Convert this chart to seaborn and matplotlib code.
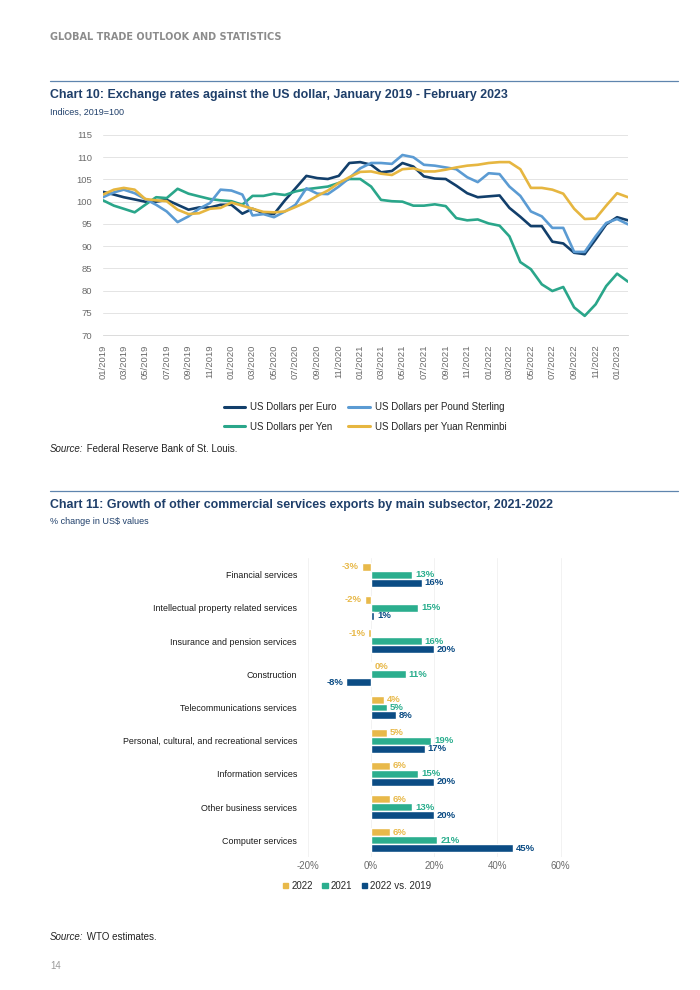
import numpy as np
import pandas as pd
import matplotlib.pyplot as plt
import seaborn as sns
from matplotlib.lines import Line2D

# ==================== DATA ====================

MONTHS = pd.date_range('2019-01-01', periods=50, freq='MS')

EURO = [102.2, 101.6, 101.0, 100.5, 100.0, 100.0, 100.4, 99.3, 98.2, 98.7,
        98.7, 99.3, 99.3, 97.3, 98.4, 97.4, 97.2, 100.3, 103.0, 105.8,
        105.3, 105.1, 105.8, 108.7, 108.9, 108.3, 106.6, 106.9, 108.7, 107.9,
        105.7, 105.2, 105.1, 103.6, 101.9, 101.0, 101.2, 101.4, 98.6, 96.6,
        94.5, 94.5, 91.0, 90.6, 88.5, 88.2, 91.5, 94.9, 96.5, 95.8]

POUND = [101.0, 102.1, 102.7, 101.9, 100.6, 99.3, 97.8, 95.4, 96.7, 98.4,
         99.7, 102.7, 102.5, 101.6, 96.9, 97.2, 96.5, 97.8, 99.3, 103.0,
         101.8, 101.7, 103.4, 105.3, 107.5, 108.7, 108.7, 108.5, 110.5, 110.0,
         108.3, 108.1, 107.7, 107.3, 105.5, 104.4, 106.4, 106.2, 103.4, 101.3,
         97.8, 96.7, 94.1, 94.1, 88.7, 88.7, 92.2, 95.2, 96.1, 94.9]

YEN = [100.3, 99.1, 98.4, 97.6, 99.3, 101.0, 100.8, 102.9, 101.8, 101.2,
       100.6, 100.3, 100.1, 99.3, 101.3, 101.3, 101.8, 101.5, 102.3, 102.8,
       103.1, 103.4, 104.2, 105.1, 105.1, 103.4, 100.4, 100.1, 100.0, 99.1,
       99.1, 99.4, 99.0, 96.3, 95.8, 96.0, 95.1, 94.6, 92.2, 86.4,
       84.8, 81.4, 79.9, 80.8, 76.2, 74.3, 76.9, 81.0, 83.8, 82.0]

YUAN = [101.6, 102.7, 103.1, 102.7, 100.6, 100.3, 100.1, 98.2, 97.2, 97.4,
        98.4, 98.6, 99.8, 99.1, 98.4, 97.7, 97.6, 97.8, 98.8, 99.9,
        101.3, 102.5, 104.2, 105.5, 106.7, 106.8, 106.3, 106.0, 107.3, 107.5,
        106.8, 106.8, 107.2, 107.7, 108.1, 108.3, 108.7, 108.9, 108.9, 107.3,
        103.1, 103.1, 102.7, 101.8, 98.4, 96.1, 96.2, 99.1, 101.9, 101.0]

SERIES_NAMES = ['US Dollars per Euro', 'US Dollars per Yen',
                'US Dollars per Pound Sterling', 'US Dollars per Yuan Renminbi']
LINE_COLORS = ['#123F6B', '#2AA68A', '#5B9BD3', '#E6B640']

SECTORS = [
    'Financial services',
    'Intellectual property related services',
    'Insurance and pension services',
    'Construction',
    'Telecommunications services',
    'Personal, cultural, and recreational services',
    'Information services',
    'Other business services',
    'Computer services'
]
GROWTH_2022 = [-3, -2, -1, 0.3, 4, 5, 6, 6, 6]
GROWTH_2021 = [13, 15, 16, 11, 5, 19, 15, 13, 21]
GROWTH_2022_VS_2019 = [16, 1, 20, -8, 8, 17, 20, 20, 45]

BAR_SERIES = ['2022', '2021', '2022 vs. 2019']
BAR_COLORS = ['#E8B94A', '#2BAE8E', '#0B4C84']

NAVY = '#1F3F6A'
GREY = '#6B6B6B'

# ==================== STYLE ====================

sns.set_theme(style='white')
plt.rcParams['font.family'] = ['Liberation Sans', 'DejaVu Sans']

fig = plt.figure(figsize=(7, 9.9), dpi=100)
W, H = 700, 990


def fx(px):
    return px / W


def fy(py):
    return 1 - py / H


def source_line(py, rest):
    # italic "Source:" followed by plain text
    t = fig.text(fx(50), fy(py), 'Source:', fontsize=7, style='italic',
                 color='#222222', va='baseline')
    ann = plt.annotate(' ' + rest, xy=(1, 0), xycoords=t, fontsize=7,
                       color='#222222', va='bottom', ha='left')
    return ann


# ==================== PAGE TEXT ====================

fig.text(fx(50), fy(37), 'GLOBAL TRADE OUTLOOK AND STATISTICS', fontsize=7,
         fontweight='bold', color='#8C8C8C', va='center',
         family=['DejaVu Sans'])

for y_rule in (81, 491):
    fig.add_artist(Line2D([fx(50), fx(678)], [fy(y_rule), fy(y_rule)],
                          color='#5F85AE', lw=0.9))

fig.text(fx(50), fy(95),
         'Chart 10: Exchange rates against the US dollar, January 2019 - February 2023',
         fontsize=8.9, fontweight='bold', color=NAVY, va='center')
fig.text(fx(50), fy(112), 'Indices, 2019=100', fontsize=6.5, color=NAVY,
         va='center')

fig.text(fx(50), fy(505),
         'Chart 11: Growth of other commercial services exports by main subsector, 2021-2022',
         fontsize=8.9, fontweight='bold', color=NAVY, va='center')
fig.text(fx(50), fy(521), '% change in US$ values', fontsize=6.5, color=NAVY,
         va='center')

fig.text(fx(50), fy(966), '14', fontsize=7, color='#9A9A9A', va='center')

# ==================== CHART 10: LINES ====================

lines_df = pd.DataFrame({
    'month': np.tile(MONTHS, 4),
    'index': EURO + YEN + POUND + YUAN,
    'series': np.repeat(SERIES_NAMES, len(MONTHS))
})

ax1 = fig.add_axes([fx(103), fy(335), fx(628) - fx(103), fy(135) - fy(335)])
sns.lineplot(data=lines_df, x='month', y='index', hue='series',
             hue_order=SERIES_NAMES, palette=LINE_COLORS, linewidth=1.9,
             ax=ax1, legend=False)

ax1.set_xlim(MONTHS[0], MONTHS[-1])
ax1.set_ylim(70, 115)
ax1.set_yticks(range(70, 116, 5))
ax1.set_xticks(MONTHS[::2])
ax1.set_xticklabels([d.strftime('%m/%Y') for d in MONTHS[::2]], rotation=90)
ax1.tick_params(axis='both', labelsize=6.8, colors=GREY, length=0, pad=8)
ax1.tick_params(axis='x', length=3, color='#CFCFCF', width=0.6, pad=4)
ax1.grid(axis='y', color='#E4E4E4', lw=0.7)
ax1.set_xlabel('')
ax1.set_ylabel('')
for side in ['top', 'right', 'left']:
    ax1.spines[side].set_visible(False)
ax1.spines['bottom'].set_color('#D6D6D6')
ax1.spines['bottom'].set_linewidth(0.6)

handles = [Line2D([0], [0], color=c, lw=2.2) for c in LINE_COLORS]
fig.legend(handles, SERIES_NAMES, ncol=2, frameon=False, fontsize=7,
           loc='center', bbox_to_anchor=(fx(365), fy(417)),
           handlelength=2.2, handletextpad=0.5, columnspacing=1.2,
           labelspacing=1.0)

source_line(452, 'Federal Reserve Bank of St. Louis.')

# ==================== CHART 11: BARS ====================

bars_df = pd.DataFrame({
    'sector': SECTORS * 3,
    'growth': GROWTH_2022 + GROWTH_2021 + GROWTH_2022_VS_2019,
    'series': np.repeat(BAR_SERIES, len(SECTORS))
})

ax2 = fig.add_axes([fx(308), fy(857), fx(570) - fx(308), fy(558) - fy(857)])
sns.barplot(data=bars_df, y='sector', x='growth', hue='series',
            hue_order=BAR_SERIES, palette=BAR_COLORS, orient='h',
            width=0.72, ax=ax2, saturation=1)

ax2.set_xlim(-20, 63)
ax2.set_xticks([-20, 0, 20, 40, 60])
ax2.set_xticklabels(['-20%', '0%', '20%', '40%', '60%'])
ax2.tick_params(axis='x', labelsize=7, colors=GREY, length=0, pad=3)
ax2.tick_params(axis='y', labelsize=6.4, colors='#1A1A1A', length=0, pad=8)
ax2.grid(axis='x', color='#F2F2F2', lw=0.7)
ax2.set_xlabel('')
ax2.set_ylabel('')
sns.despine(ax=ax2, left=True, bottom=True)

for container, color in zip(ax2.containers, BAR_COLORS):
    vals = container.datavalues
    ax2.bar_label(container, labels=[f'{v:.0f}%' for v in vals], padding=2,
                  fontsize=6.8, color=color, fontweight='bold')

ax2.legend_.remove()
bar_handles = [plt.Rectangle((0, 0), 1, 1, color=c) for c in BAR_COLORS]
fig.legend(bar_handles, BAR_SERIES, ncol=3, frameon=False, fontsize=7,
           loc='center', bbox_to_anchor=(fx(357), fy(886)),
           handlelength=0.55, handleheight=0.55, handletextpad=0.3,
           columnspacing=1.0)

source_line(940, 'WTO estimates.')

fig.savefig('out.png', dpi=100)
